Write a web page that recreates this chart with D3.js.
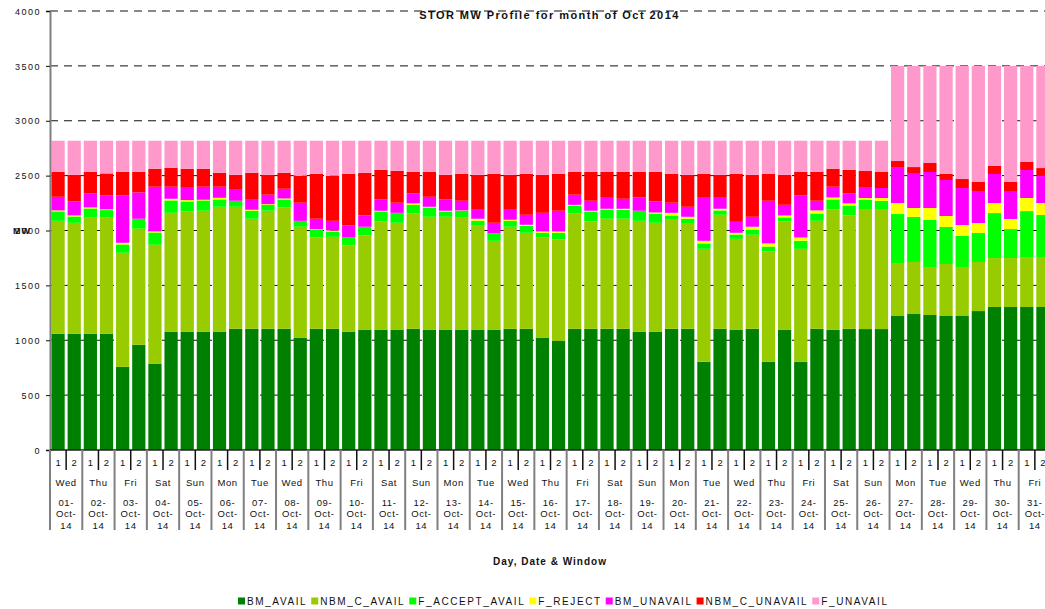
<!DOCTYPE html>
<html><head><meta charset="utf-8">
<script src="https://cdn.jsdelivr.net/npm/d3@7"></script>
<style>
body{margin:0;background:#fff;}
svg{display:block;font-family:"Liberation Sans",Arial,sans-serif;}
</style></head>
<body><svg id="c" width="1045" height="609"></svg>
<script>
const seriesNames = ["BM_AVAIL","NBM_C_AVAIL","F_ACCEPT_AVAIL","F_REJECT","BM_UNAVAIL","NBM_C_UNAVAIL","F_UNAVAIL"];
const seriesColors = ["#008000","#99CC00","#00FF00","#FFFF00","#FF00FF","#FF0000","#FF99CC"];
const dayNames = ["Wed","Thu","Fri","Sat","Sun","Mon","Tue","Wed","Thu","Fri","Sat","Sun","Mon","Tue","Wed","Thu","Fri","Sat","Sun","Mon","Tue","Wed","Thu","Fri","Sat","Sun","Mon","Tue","Wed","Thu","Fri"];
const dayNums = ["01","02","03","04","05","06","07","08","09","10","11","12","13","14","15","16","17","18","19","20","21","22","23","24","25","26","27","28","29","30","31"];
const windows = ["1","2"];
const yTicks = [0,500,1000,1500,2000,2500,3000,3500,4000];

const bmAvail = [1058,1058,1058,1058,757,958,784,1076,1076,1076,
 1076,1104,1104,1104,1104,1021,1104,1104,1076,1094,
 1094,1094,1104,1094,1094,1094,1094,1094,1104,1104,
 1021,994,1104,1104,1104,1104,1076,1076,1104,1104,
 803,1104,1094,1104,803,1094,803,1104,1094,1104,
 1102,1102,1221,1239,1230,1221,1221,1266,1303,1303,
 1303,1303];
const nbmCAvail = [1030,1012,1058,1064,1040,1058,1086,1085,1098,1104,
 1140,1112,1003,1076,1106,1013,832,838,788,861,
 988,976,1051,1031,1031,1022,949,812,930,875,
 915,924,1051,978,1003,1003,1012,994,994,957,
 1030,1039,830,857,1006,988,1030,984,1098,1033,
 1094,1094,483,474,437,474,446,447,446,446,
 455,455];
const fAcceptAvail = [86,58,85,64,76,91,112,113,91,94,
 67,55,73,54,73,54,73,49,72,79,
 92,91,79,85,49,64,45,67,54,64,
 43,61,73,92,85,82,92,85,39,46,
 49,40,40,48,45,37,73,67,91,91,
 82,73,446,410,429,337,283,264,410,264,
 419,383];
const fReject = [9,9,9,6,15,0,9,15,12,6,
 15,0,9,6,9,0,3,9,0,0,
 6,0,13,6,6,3,19,0,10,9,
 12,12,6,6,6,9,0,9,24,18,
 24,15,15,25,28,18,30,28,18,19,
 18,27,100,82,109,100,100,91,91,92,
 119,109];
const bmUnavail = [124,128,128,128,432,240,408,110,112,119,
 101,100,91,86,88,165,95,88,110,103,
 103,92,91,91,103,88,82,97,91,91,
 170,189,92,91,100,91,121,101,92,91,
 392,100,100,91,389,97,384,88,98,91,
 100,91,328,319,328,328,337,292,265,255,
 255,246];
const nbmCUnavail = [228,243,197,200,215,188,164,173,174,164,
 127,137,246,182,146,246,410,411,471,389,
 271,291,197,228,225,246,319,447,319,374,
 347,337,209,264,237,246,234,270,264,292,
 219,210,438,383,246,274,215,264,164,216,
 146,146,55,54,82,55,82,82,73,82,
 73,73];
const fUnavail = [283,310,283,298,283,283,255,246,255,255,
 292,310,292,310,292,319,301,319,301,292,
 264,274,283,283,310,301,310,301,310,301,
 310,301,283,283,283,283,283,283,301,310,
 301,310,301,310,301,310,283,283,255,264,
 276,285,867,922,885,985,1031,1058,912,1058,
 876,931];

const seriesVals = [bmAvail,nbmCAvail,fAcceptAvail,fReject,bmUnavail,nbmCUnavail,fUnavail];
const rows = bmAvail.map((_,i)=>{const r={i};seriesNames.forEach((n,k)=>r[n]=seriesVals[k][i]);return r;});

const svg = d3.select("#c");
svg.append("rect").attr("width",1045).attr("height",609).attr("fill","#fff");

const L=50, R=1051, T=11, B=450;
const x = d3.scaleBand().domain(d3.range(rows.length)).range([L,R]).paddingInner(0.18).paddingOuter(0.09);
const y = d3.scaleLinear().domain([0,4000]).range([B,T]);
const step = x.step();
const edge = i => x(i) - step*0.09;

// gridlines
svg.append("g").selectAll("line").data(yTicks.filter(d=>d>0)).join("line")
  .attr("x1",L).attr("x2",R).attr("y1",d=>y(d)).attr("y2",d=>y(d))
  .attr("stroke","#111").attr("stroke-width",1).attr("stroke-dasharray","8,6");

// bars
const stack = d3.stack().keys(seriesNames)(rows);
svg.append("g").selectAll("g").data(stack).join("g")
  .attr("fill",(d,k)=>seriesColors[k])
  .selectAll("rect").data(d=>d).join("rect")
  .attr("x",d=>x(d.data.i)).attr("width",x.bandwidth())
  .attr("y",d=>y(d[1])).attr("height",d=>Math.max(0,y(d[0])-y(d[1])));

// y axis
const ya = svg.append("g").attr("transform",`translate(${L},0)`)
  .call(d3.axisLeft(y).tickValues(yTicks).tickSize(4).tickFormat(d3.format("d")));
ya.select(".domain").attr("stroke","#808080").attr("stroke-width",2);
ya.selectAll(".tick line").attr("stroke","#111");
ya.selectAll(".tick text").attr("x",-9).attr("font-size","9px").attr("letter-spacing","1.5px")
  .attr("fill","#111").attr("font-family","'Liberation Sans',Arial,sans-serif").attr("dy","0.35em");

// x axis baseline
svg.append("line").attr("x1",L).attr("x2",R).attr("y1",B).attr("y2",B).attr("stroke","#222").attr("stroke-width",1.5);

// window labels via axis
const xa = svg.append("g").attr("transform",`translate(0,${B})`)
  .call(d3.axisBottom(x).tickSize(0).tickFormat(i=>windows[i%2]));
xa.select(".domain").remove();
xa.selectAll(".tick text").attr("y",13).attr("dy","0.35em").attr("font-size","9.5px")
  .attr("fill","#111").attr("font-family","'Liberation Sans',Arial,sans-serif");

// window separators
svg.append("g").selectAll("line").data(d3.range(dayNames.length)).join("line")
  .attr("x1",d=>edge(2*d+1)).attr("x2",d=>edge(2*d+1)).attr("y1",B).attr("y2",470)
  .attr("stroke","#111").attr("stroke-width",1.5);
// day separators
svg.append("g").selectAll("line").data(d3.range(dayNames.length+1)).join("line")
  .attr("x1",d=>d<dayNames.length?edge(2*d):R).attr("x2",d=>d<dayNames.length?edge(2*d):R)
  .attr("y1",B).attr("y2",530)
  .attr("stroke","#808080").attr("stroke-width",2);

// day labels
const dl = svg.append("g").attr("font-size","9.5px").attr("fill","#111").attr("text-anchor","middle").attr("letter-spacing","0.6px");
dayNames.forEach((dn,d)=>{
  const cx = edge(2*d+1);
  dl.append("text").attr("x",cx).attr("y",486).text(dn);
  dl.append("text").attr("x",cx).attr("y",505.5).text(dayNums[d]+"-");
  dl.append("text").attr("x",cx).attr("y",517).text("Oct-");
  dl.append("text").attr("x",cx).attr("y",528.5).text("14");
});

// title
svg.append("text").attr("x",549.5).attr("y",19).attr("text-anchor","middle")
  .attr("font-size","11px").attr("font-weight","bold").attr("letter-spacing","1.45px").attr("fill","#111")
  .text("STOR MW Profile for month of Oct 2014");
// y title
svg.append("text").attr("x",22).attr("y",234).attr("text-anchor","middle")
  .attr("font-size","9px").attr("font-weight","bold").attr("letter-spacing","1px").attr("fill","#111").text("MW");
// x title
svg.append("text").attr("x",550).attr("y",565).attr("text-anchor","middle")
  .attr("font-size","10px").attr("font-weight","bold").attr("letter-spacing","1px").attr("fill","#111")
  .text("Day, Date & Window");

// legend
const lg = svg.append("g");
let lx = 0;
const items = [];
seriesNames.forEach((n,k)=>{
  const g = lg.append("g").attr("transform",`translate(${lx},0)`);
  g.append("rect").attr("x",0).attr("y",597.5).attr("width",7).attr("height",7).attr("fill",seriesColors[k]);
  const t = g.append("text").attr("x",9).attr("y",605).attr("font-size","10px").attr("letter-spacing","1.6px").attr("fill","#111").text(n);
  lx += 9 + t.node().getComputedTextLength() + 4;
});
lg.attr("transform",`translate(${238},0)`);
</script></body></html>
